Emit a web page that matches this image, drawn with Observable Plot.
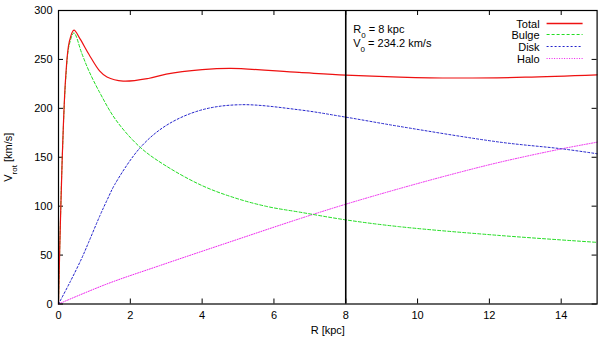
<!DOCTYPE html>
<html><head><meta charset="utf-8">
<script src="https://cdn.jsdelivr.net/npm/d3@7"></script>
<script src="https://cdn.jsdelivr.net/npm/@observablehq/plot@0.6"></script>
<style>body{margin:0;background:#fff}</style>
</head><body><div id="chart"></div>
<script>
// ---- data ----
const seriesNames = ["Total", "Bulge", "Disk", "Halo"];
const seriesColors = ["#ee1111", "#22dd22", "#2222cc", "#ee22ee"];
const seriesDash = ["none", "3,2", "2,2", "1,1.5"];

const rTotal = [0, 0.02, 0.05, 0.1, 0.2, 0.3, 0.43, 0.6, 0.85, 1.15, 1.35, 1.8, 2.5, 3.0, 4.0, 4.8, 6.7, 8, 9.5, 11, 13, 15];
const vTotal = [0, 34, 80, 145, 232, 268, 280, 271, 255, 238, 232, 227.8, 230.5, 235, 239.5, 240.8, 236.7, 234, 232, 231, 231.8, 234.3];

const rBulge = [0, 0.02, 0.05, 0.1, 0.2, 0.3, 0.43, 0.65, 0.85, 1.15, 1.6, 2.28, 3.0, 4.0, 4.9, 5.8, 6.7, 8, 9.5, 12.3, 15];
const vBulge = [0, 34, 80, 144, 229, 265, 277, 256, 238, 216, 188, 160, 141, 121, 108.6, 99.7, 94, 86, 79, 70, 63];

const rDisk = [0, 0.33, 0.65, 0.85, 1.15, 1.35, 1.58, 2.28, 3.0, 3.95, 5.06, 6.7, 8, 9.5, 12.3, 14, 15];
const vDisk = [0, 23, 47, 64, 90, 106, 123, 160, 182.5, 198, 203.7, 198.5, 191, 181.5, 165.4, 158.7, 153.6];

const rHalo = [0, 1.35, 2.8, 4.9, 6.7, 8, 9.5, 11, 12.3, 14, 15];
const vHalo = [0, 20.5, 39, 65, 87, 102, 118, 133, 145, 158.5, 165.4];

const xTicks = [0, 2, 4, 6, 8, 10, 12, 14];
const yTicks = [0, 50, 100, 150, 200, 250, 300];
const R0 = 8;
const V0 = 234.2;

// ---- layout ----
const W = 600, H = 343, mL = 58, mR = 3.4, mT = 10, mB = 39.5;
const pw = W - mL - mR, ph = H - mT - mB, tk = 5;
const font = "'Liberation Sans', Arial, Helvetica, sans-serif";

const rs = [rTotal, rBulge, rDisk, rHalo];
const vs = [vTotal, vBulge, vDisk, vHalo];
const tables = rs.map((r, i) => r.map((x, j) => ({r: x, v: vs[i][j]})));

const lines = [3, 2, 1, 0].map(i => Plot.line(tables[i], {
  x: "r", y: "v", stroke: seriesColors[i], strokeWidth: i === 0 ? 1.2 : 1,
  strokeDasharray: seriesDash[i], curve: "catmull-rom"
}));

const plot = Plot.plot({
  width: W, height: H,
  marginLeft: mL, marginRight: mR, marginTop: mT, marginBottom: mB,
  style: {fontFamily: font, fontSize: "11px", color: "black", background: "white"},
  x: {domain: [0, 15]},
  y: {domain: [0, 300]},
  marks: [
    Plot.axisX(xTicks, {anchor: "bottom", tickSize: 0, tickPadding: 7, label: "R [kpc]", labelAnchor: "center", labelOffset: 30, labelArrow: "none"}),
    Plot.axisY(yTicks, {anchor: "left", tickSize: 0, tickPadding: 6, label: "Vrot", labelAnchor: "center", labelOffset: 54, labelArrow: "none"}),
    Plot.tickX(xTicks, {x: d => d, insetTop: ph - tk, stroke: "black"}),
    Plot.tickX(xTicks, {x: d => d, insetBottom: ph - tk, stroke: "black"}),
    Plot.tickY(yTicks, {y: d => d, insetRight: pw - tk, stroke: "black"}),
    Plot.tickY(yTicks, {y: d => d, insetLeft: pw - tk, stroke: "black"}),
    ...lines,
    Plot.ruleX([R0], {x: d => d, stroke: "black", strokeWidth: 1.6}),
    Plot.frame({stroke: "black", strokeWidth: 1.2})
  ]
});

const svg = d3.select(plot);
// y label with subscript
const yl = svg.select('g[aria-label="y-axis label"] text');
yl.text(null);
yl.append("tspan").text("V");
yl.append("tspan").attr("baseline-shift", "sub").attr("font-size", "8px").text("rot");
yl.append("tspan").text(" [km/s]");

// annotation next to R0 line
const xs = plot.scale("x");
const ax = xs.apply(R0) + 8;
const ann = svg.append("g").attr("font-family", font).attr("font-size", "11px").attr("text-anchor", "start");
const t1 = ann.append("text").attr("x", ax).attr("y", mT + 22.5);
t1.append("tspan").text("R");
t1.append("tspan").attr("baseline-shift", "sub").attr("font-size", "8px").text("0");
t1.append("tspan").text(` = ${R0} kpc`);
const t2 = ann.append("text").attr("x", ax).attr("y", mT + 36.5);
t2.append("tspan").text("V");
t2.append("tspan").attr("baseline-shift", "sub").attr("font-size", "8px").text("0");
t2.append("tspan").text(` = ${V0} km/s`);

// legend inside top-right (samples drawn as short paths)
const right = W - mR;
const lg = svg.append("g").attr("font-family", font).attr("font-size", "11px").attr("fill", "none");
seriesNames.forEach((name, i) => {
  const cy = Math.round(mT + 12.5 + i * 11.7) + 0.5;
  lg.append("text").attr("x", right - 57).attr("y", cy + 4).attr("text-anchor", "end")
    .attr("fill", "black").text(name);
  lg.append("path").attr("d", `M${right - 50},${cy}H${right - 14}`)
    .attr("stroke", seriesColors[i]).attr("stroke-width", i === 0 ? 1.4 : 1)
    .attr("stroke-dasharray", seriesDash[i]);
});

document.getElementById("chart").appendChild(plot);
</script>
</body></html>
